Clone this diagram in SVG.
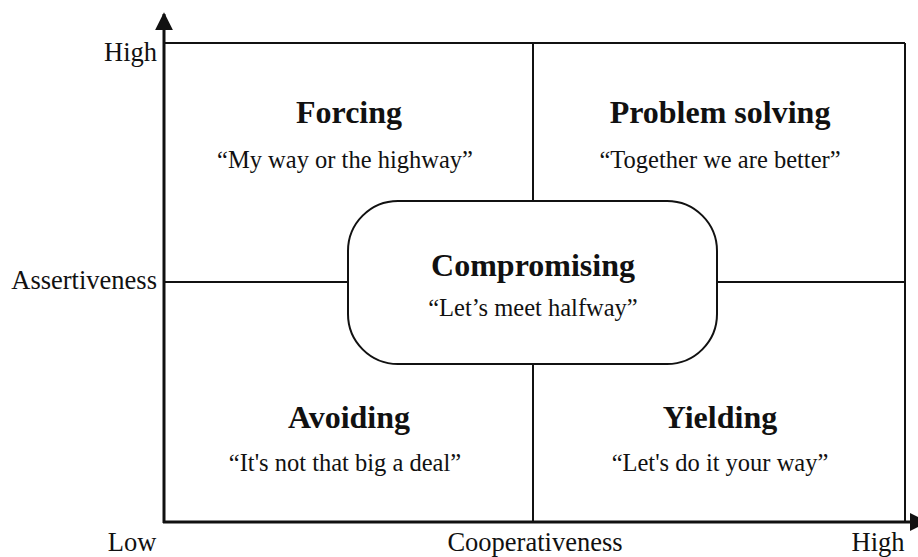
<svg xmlns="http://www.w3.org/2000/svg" width="918" height="557" viewBox="0 0 918 557">
<style>
.t{font-family:"Liberation Serif","Times New Roman",serif;fill:#111}
.b{font-weight:bold;font-size:32px;text-anchor:middle}
.q{font-size:24.5px;text-anchor:middle}
.ax{font-size:26.5px}
.ln{stroke:#111;fill:none}
</style>
<defs>
<marker id="ah" viewBox="0 0 10 10" refX="9" refY="5" markerWidth="6" markerHeight="6" markerUnits="strokeWidth" orient="auto">
<path d="M0,0 L10,5 L0,10 z" fill="#111"/>
</marker>
</defs>
<g id="connectors">
<line class="ln" x1="164" y1="43" x2="905" y2="43" stroke-width="2"/>
<line class="ln" x1="905" y1="43" x2="905" y2="522" stroke-width="2"/>
<line class="ln" x1="533" y1="43" x2="533" y2="201" stroke-width="2"/>
<line class="ln" x1="533" y1="364" x2="533" y2="522" stroke-width="2"/>
<line class="ln" x1="164" y1="282" x2="348" y2="282" stroke-width="2"/>
<line class="ln" x1="717" y1="282" x2="905" y2="282" stroke-width="2"/>
<line class="ln" x1="164" y1="523" x2="164" y2="14" stroke-width="3" marker-end="url(#ah)"/>
<line class="ln" x1="163" y1="522" x2="926" y2="522" stroke-width="3" marker-end="url(#ah)"/>
</g>
<g id="axis-labels">
<text class="t ax" x="157" y="61" text-anchor="end">High</text>
<text class="t ax" x="157" y="289" text-anchor="end">Assertiveness</text>
<text class="t ax" x="132" y="551" text-anchor="middle">Low</text>
<text class="t ax" x="535" y="551" text-anchor="middle">Cooperativeness</text>
<text class="t ax" x="878" y="551" text-anchor="middle">High</text>
</g>
<g id="forcing">
<text class="t b" x="349" y="123">Forcing</text>
<text class="t q" x="345" y="168">“My way or the highway”</text>
</g>
<g id="problem-solving">
<text class="t b" x="720" y="123">Problem solving</text>
<text class="t q" x="720" y="168">“Together we are better”</text>
</g>
<g id="avoiding">
<text class="t b" x="349" y="428">Avoiding</text>
<text class="t q" x="345" y="471">“It's not that big a deal”</text>
</g>
<g id="yielding">
<text class="t b" x="720" y="428">Yielding</text>
<text class="t q" x="720" y="471">“Let's do it your way”</text>
</g>
<g id="compromising">
<rect x="348" y="201" width="369" height="163" rx="50" ry="50" fill="#fff" stroke="#111" stroke-width="2"/>
<text class="t b" x="533" y="276">Compromising</text>
<text class="t q" x="533" y="316">“Let’s meet halfway”</text>
</g>
</svg>
